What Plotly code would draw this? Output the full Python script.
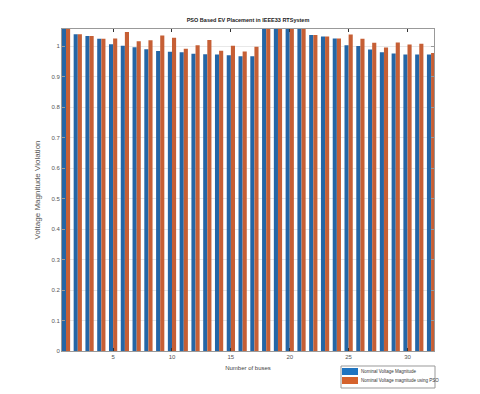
import plotly.graph_objects as go

buses = list(range(1, 33))

nominal = [1.06, 1.039, 1.033, 1.024, 1.006, 1.001, 0.996, 0.990, 0.984, 0.981,
           0.980, 0.975, 0.973, 0.972, 0.970, 0.967, 0.967, 1.06, 1.06, 1.06,
           1.06, 1.036, 1.031, 1.025, 1.003, 1.000, 0.989, 0.980, 0.976, 0.972,
           0.972, 0.972]

with_pso = [1.06, 1.039, 1.033, 1.024, 1.025, 1.046, 1.016, 1.019, 1.035, 1.027,
            0.991, 1.003, 1.020, 0.985, 1.001, 0.982, 0.998, 1.06, 1.06, 1.06,
            1.06, 1.036, 1.031, 1.025, 1.038, 1.024, 1.011, 0.995, 1.012, 1.005,
            1.008, 0.977]

series_names = ["Nominal Voltage Magnitude", "Nominal Voltage magnitude using PSO"]
colors = ["#2466a6", "#c65f35"]
legend_colors = ["#1f74c0", "#d5622c"]

y_ticks = [0, 0.1, 0.2, 0.3, 0.4, 0.5, 0.6, 0.7, 0.8, 0.9, 1]
x_ticks = [5, 10, 15, 20, 25, 30]

# the page puts the figure 8px in from the corner, so work in page pixels
OFF = 8
L, R, T, B = 62, 434, 29, 351
def px(x):
    return (x - L) / (R - L)
def py(y):
    return (B - y) / (B - T)

fig = go.Figure()
for vals, name, c in zip([nominal, with_pso], series_names, colors):
    fig.add_trace(go.Bar(x=buses, y=vals, name=name,
                         marker=dict(color=c, line=dict(width=0))))

# MATLAB style legend box drawn by hand
shapes = [dict(type="rect", xref="paper", yref="paper",
               x0=px(341), x1=px(435), y0=py(366), y1=py(388),
               line=dict(color="#999", width=1), fillcolor="white")]
annotations = []
for i, (name, c) in enumerate(zip(series_names, legend_colors)):
    top = 368 + i * 9
    shapes.append(dict(type="rect", xref="paper", yref="paper",
                       x0=px(342), x1=px(358), y0=py(top), y1=py(top + 7),
                       line=dict(width=0), fillcolor=c))
    annotations.append(dict(text=name, xref="paper", yref="paper",
                            x=px(359), y=py(top + 3.5), xanchor="left", yanchor="middle",
                            showarrow=False, font=dict(size=4.5, color="#333")))

fig.update_layout(
    width=480, height=394,
    margin=dict(l=L - OFF, r=480 - R + OFF, t=T - OFF, b=394 - B + OFF, autoexpand=False),
    paper_bgcolor="white", plot_bgcolor="white",
    barmode="group", bargap=0.3, bargroupgap=0,
    showlegend=False,
    font=dict(family="Liberation Sans, Arial", size=6, color="#555"),
    title=dict(text="<b>PSO Based EV Placement in IEEE33 RTSystem</b>",
               x=0.5, xanchor="center", y=1 - (20 - OFF) / 394, yanchor="middle",
               font=dict(size=5.5, color="#222")),
    xaxis=dict(range=[0.66, 32.25], tickvals=x_ticks, ticks="inside", ticklen=3,
               tickcolor="#333", showgrid=False, zeroline=False,
               showline=True, linecolor="#999", linewidth=1, mirror="ticks",
               title=dict(text="Number of buses", standoff=6,
                          font=dict(size=6, color="#444"))),
    yaxis=dict(range=[0, 1.056], tickvals=y_ticks, ticktext=[str(v) for v in y_ticks],
               ticks="inside", ticklen=3, tickcolor="#999",
               showgrid=True, gridcolor="#e8e8e8", zeroline=False,
               showline=True, linecolor="#999", linewidth=1, mirror="ticks",
               title=dict(text="Voltage Magnitude Violation", standoff=9,
                          font=dict(size=8, color="#555"))),
    shapes=shapes,
    annotations=annotations,
)

fig.write_html("out.html")
